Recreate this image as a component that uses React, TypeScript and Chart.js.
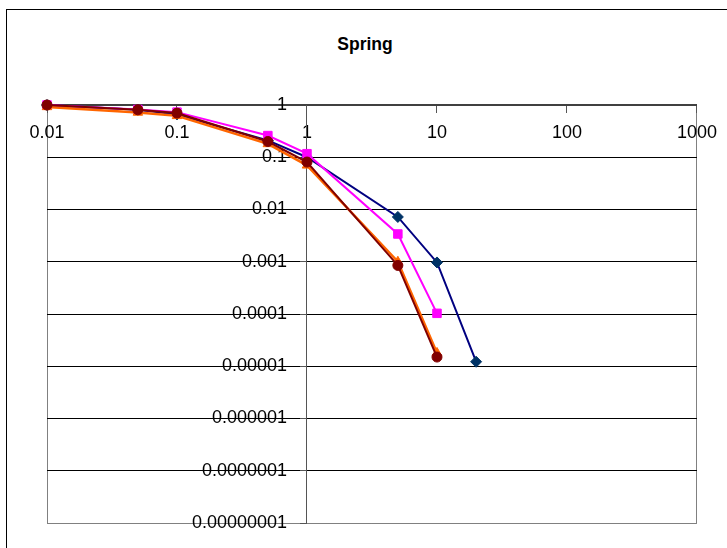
import React, { useEffect, useRef } from 'react';
import { Chart, registerables } from 'chart.js';

Chart.register(...registerables);

const chartTitle = 'Spring';
const xValues = [0.01, 0.05, 0.1, 0.5, 1, 5, 10, 20];
const seriesNavy = [1, 0.81, 0.66, 0.21, 0.1, 0.0072, 0.00097, 0.0000122];
const seriesMagenta = [1, 0.82, 0.73, 0.26, 0.117, 0.0034, 0.000103];
const seriesOrange = [0.92, 0.72, 0.62, 0.18, 0.07, 0.001, 0.000018];
const seriesDarkRed = [1, 0.81, 0.7, 0.2, 0.081, 0.00085, 0.000015];

const xTickValues = [0.01, 0.1, 1, 10, 100, 1000];
const xTickLabels = ['0.01', '0.1', '1', '10', '100', '1000'];
const yTickValues = [1e-8, 1e-7, 1e-6, 1e-5, 1e-4, 1e-3, 1e-2, 1e-1, 1];
const yTickLabels = ['0.00000001', '0.0000001', '0.000001', '0.00001', '0.0001', '0.001', '0.01', '0.1', '1'];

const FONT = "'Liberation Sans', Arial, sans-serif";

const toPoints = (ys: number[]) => ys.map((y, i) => ({ x: xValues[i], y }));
const findIdx = (vals: number[], v: number) =>
  vals.findIndex((t) => Math.abs(Math.log10(t) - Math.log10(v)) < 1e-6);

export default function App() {
  const ref = useRef<HTMLCanvasElement | null>(null);

  useEffect(() => {
    if (!ref.current) return;
    const chart = new Chart(ref.current, {
      type: 'line',
      data: {
        datasets: [
          {
            data: toPoints(seriesDarkRed),
            borderColor: '#800000',
            backgroundColor: '#800000',
            borderWidth: 2,
            pointStyle: 'circle',
            pointRadius: 5,
            pointBorderWidth: 1,
            order: 0,
            clip: false,
          },
          {
            data: toPoints(seriesOrange),
            borderColor: '#FF6600',
            backgroundColor: '#FF6600',
            borderWidth: 2.5,
            pointStyle: 'triangle',
            pointRadius: 5.5,
            pointBorderWidth: 1,
            order: 1,
            clip: false,
          },
          {
            data: toPoints(seriesMagenta),
            borderColor: '#FF00FF',
            backgroundColor: '#FF00FF',
            borderWidth: 2,
            pointStyle: 'rect',
            pointRadius: 6,
            pointBorderWidth: 1,
            order: 2,
            clip: false,
          },
          {
            data: toPoints(seriesNavy),
            borderColor: '#000080',
            backgroundColor: '#003366',
            pointBorderColor: '#003366',
            borderWidth: 2,
            pointStyle: 'rectRot',
            pointRadius: 5.5,
            pointBorderWidth: 1,
            order: 3,
            clip: false,
          },
        ] as any,
      },
      options: {
        animation: false,
        responsive: false,
        layout: { padding: { left: 47, right: 28, top: 105, bottom: 25 } },
        plugins: {
          legend: { display: false },
          title: { display: false },
          tooltip: { enabled: false },
        },
        elements: { line: { tension: 0 } },
        scales: {
          x: {
            type: 'logarithmic',
            min: 0.01,
            max: 1000,
            position: { y: 1 } as any,
            afterFit: (s: any) => {
              s.height = 0;
            },
            afterBuildTicks: (s: any) => {
              s.ticks = xTickValues.map((v) => ({ value: v }));
            },
            grid: {
              color: (ctx: any) => {
                const v = ctx.tick ? ctx.tick.value : null;
                return v === 0.01 || v === 1000 ? '#808080' : 'rgba(0,0,0,0)';
              },
              lineWidth: 1,
              drawTicks: true,
              tickLength: 7,
              tickColor: '#555555',
              tickWidth: 1,
            },
            border: { display: true, color: '#404040', width: 2 },
            ticks: {
              autoSkip: false,
              maxRotation: 0,
              minRotation: 0,
              padding: 10,
              color: '#000000',
              font: { family: FONT, size: 18 },
              callback: (value: any) => {
                const i = findIdx(xTickValues, Number(value));
                return i >= 0 ? xTickLabels[i] : '';
              },
            },
          },
          y: {
            type: 'logarithmic',
            min: 1e-8,
            max: 1,
            position: { x: 1 } as any,
            afterFit: (s: any) => {
              s.width = 0;
            },
            afterBuildTicks: (s: any) => {
              s.ticks = yTickValues.map((v) => ({ value: v }));
            },
            grid: {
              color: (ctx: any) => {
                const v = ctx.tick ? ctx.tick.value : null;
                return v !== null && Math.abs(Math.log10(v) + 8) < 1e-6 ? '#808080' : '#000000';
              },
              lineWidth: 1,
              drawTicks: true,
              tickLength: 6,
              tickColor: '#555555',
              tickWidth: 1,
            },
            border: { display: true, color: '#555555', width: 1 },
            ticks: {
              autoSkip: false,
              color: '#000000',
              font: { family: FONT, size: 18 },
              callback: (value: any) => {
                const i = findIdx(yTickValues, Number(value));
                return i >= 0 ? yTickLabels[i] + '    ' : '';
              },
            },
          },
        },
      } as any,
    });
    return () => chart.destroy();
  }, []);

  return (
    <div
      style={{
        position: 'fixed',
        left: 0,
        top: 0,
        width: 727,
        height: 548,
        overflow: 'hidden',
        background: '#ffffff',
      }}
    >
      <div
        style={{
          position: 'absolute',
          left: 6,
          top: 9,
          width: 800,
          height: 600,
          border: '1px solid #000000',
        }}
      />
      <div
        style={{
          position: 'absolute',
          left: 0,
          top: 34,
          width: 730,
          textAlign: 'center',
          fontFamily: FONT,
          fontWeight: 'bold',
          fontSize: 17.5,
          lineHeight: '20px',
          color: '#000000',
        }}
      >
        {chartTitle}
      </div>
      <canvas
        ref={ref}
        width={727}
        height={548}
        style={{ position: 'absolute', left: 0, top: 0 }}
      />
    </div>
  );
}
